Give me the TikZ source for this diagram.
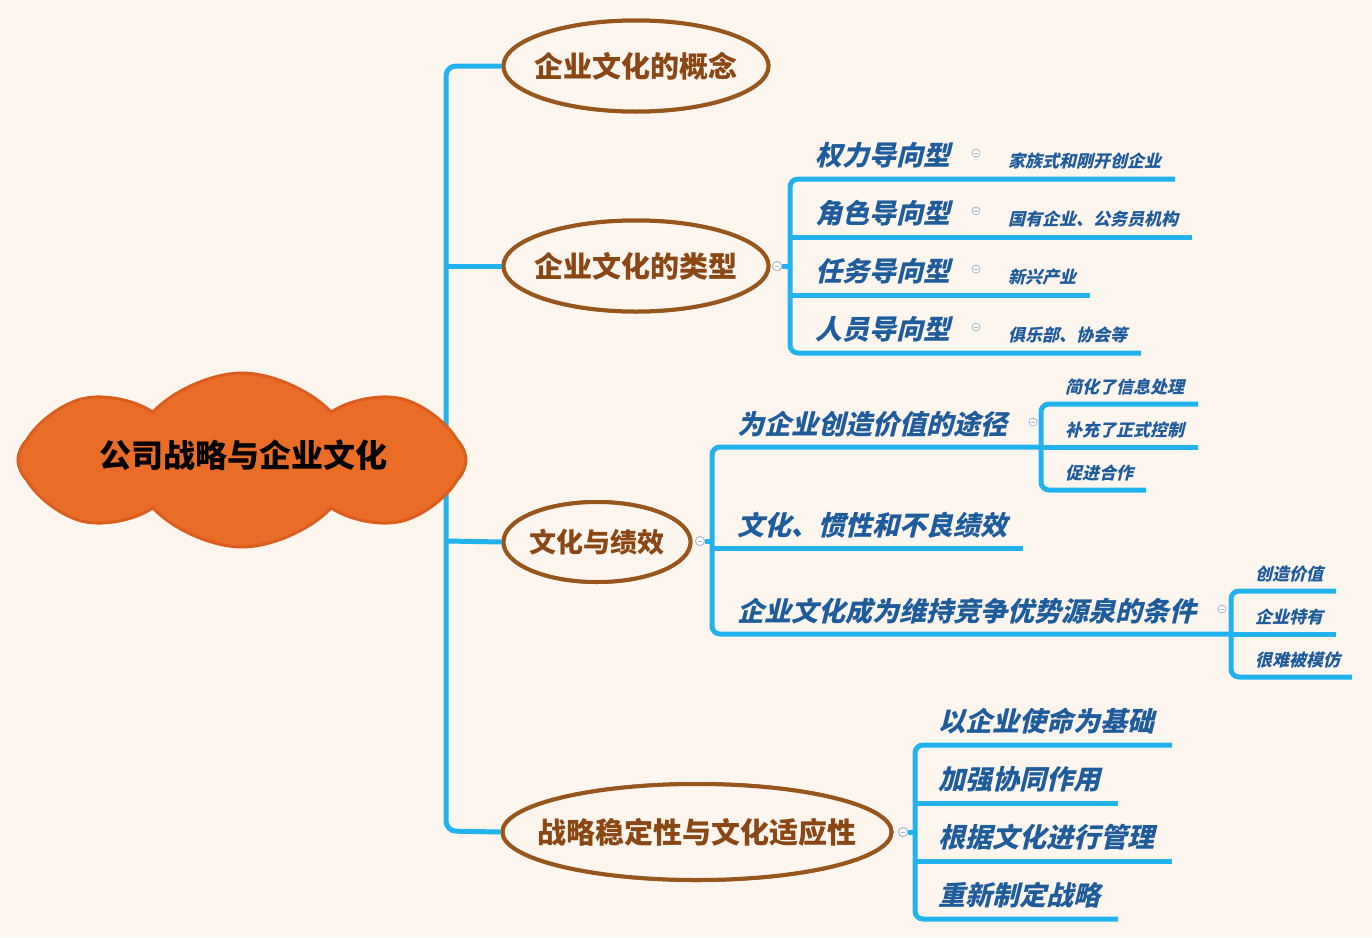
\documentclass[tikz,border=0pt]{standalone}
\usepackage{fontspec}
\usetikzlibrary{shapes.symbols,shapes.geometric}
\newfontfamily\cjk{Noto Sans CJK SC}
\newfontfamily\cjkit{Noto Sans CJK SC}[FakeSlant=0.24]
\definecolor{bgc}{HTML}{FCF6EF}
\definecolor{lblue}{HTML}{22B2EE}
\definecolor{tblue}{HTML}{1F5C9C}
\definecolor{ebrown}{HTML}{98561B}
\definecolor{tbrown}{HTML}{8A4714}
\definecolor{corange}{HTML}{EA6D27}
\definecolor{corange2}{HTML}{DA5E1E}
\definecolor{mkc}{HTML}{A7B4CF}
\tikzset{
  br/.style={draw=lblue, line width=5pt, rounded corners=8pt},
  lone/.style={ellipse, draw=ebrown, line width=4pt, fill=bgc, inner sep=0pt, text=tbrown},
  ltext/.style={anchor=base, inner sep=0pt, text=tbrown, font=\cjk\bfseries\fontsize{29}{32}\selectfont},
  ttwo/.style={anchor=base west, inner sep=0pt, text=tblue, font=\cjkit\bfseries\fontsize{27}{30}\selectfont},
  tthree/.style={anchor=base west, inner sep=0pt, text=tblue, font=\cjkit\bfseries\fontsize{17}{20}\selectfont},
  mk/.style={circle, draw=mkc, fill=white, minimum size=9pt, inner sep=0pt, line width=0.8pt,
    path picture={\draw[mkc, line width=0.9pt] ([xshift=-2.3pt]path picture bounding box.center) -- ([xshift=2.3pt]path picture bounding box.center);}}
}
\begin{document}
\begin{tikzpicture}[x=1pt,y=-1pt]
\useasboundingbox (0,0) rectangle (1372,937);
\fill[bgc] (0,0) rectangle (1372,937);

% ---- level 1 ellipses
\node[lone, minimum width=265pt, minimum height=91pt] (e1) at (636,66) {};
\node[lone, minimum width=265pt, minimum height=91pt] (e2) at (636,266) {};
\node[lone, minimum width=187pt, minimum height=80pt] (e3) at (597,542) {};
\node[lone, minimum width=389pt, minimum height=96pt] (e4) at (697,832) {};

% ---- trunk
\coordinate (t1) at (446,66);
\coordinate (t2) at (446,266);
\coordinate (t3) at (446,541);
\coordinate (t4) at (446,831);
\draw[br, rounded corners=10pt] (e1.west) -- (t1) -- (t4) -- (e4.west);
\draw[br, rounded corners=0pt] (t2) -- (e2.west);
\draw[br, rounded corners=0pt] (t3) -- (e3.west);

% redraw ellipses on top of connectors
\node[lone, minimum width=265pt, minimum height=91pt] at (636,66) {};
\node[lone, minimum width=265pt, minimum height=91pt] at (636,266) {};
\node[lone, minimum width=187pt, minimum height=80pt] at (597,542) {};
\node[lone, minimum width=389pt, minimum height=96pt] at (697,832) {};
\node[ltext] (l1) at (636,77) {企业文化的概念};
\node[ltext] (l2) at (636,277) {企业文化的类型};
\node[ltext, font=\cjk\bfseries\fontsize{27}{30}\selectfont] (l3) at (597,552) {文化与绩效};
\node[ltext] (l4) at (697,843) {战略稳定性与文化适应性};

% ---- root cloud
\node[cloud, cloud puffs=8, cloud puff arc=95, aspect=2.6, fill=corange, draw=corange2, line width=3pt,
      minimum width=448pt, minimum height=174pt, inner sep=0pt, shape border rotate=2] (root) at (242,460) {};
\node[anchor=base, inner sep=0pt, font=\cjk\bfseries\fontsize{32}{36}\selectfont, text=black] (rootlabel) at (243,467) {公司战略与企业文化};

% ---- group: types
\coordinate (g2) at (790,266);
\draw[br] (1175,179) -- (790,179) -- (790,353) -- (1141,353);
\draw[br, rounded corners=0pt] (790,237) -- (1192,237);
\draw[br, rounded corners=0pt] (790,295) -- (1090,295);
\node[mk] (m2) at (777,266) {};
\draw[br, rounded corners=0pt] (m2.east) -- (g2);
\node[mk] at (777,266) {};

\node[ttwo] (a1) at (815,165) {权力导向型};
\node[ttwo] (a2) at (815,223) {角色导向型};
\node[ttwo] (a3) at (815,281) {任务导向型};
\node[ttwo] (a4) at (815,339) {人员导向型};
\node[mk, minimum size=8pt] (ma1) at (976,153) {};
\node[mk, minimum size=8pt] (ma2) at (976,211) {};
\node[mk, minimum size=8pt] (ma3) at (976,269) {};
\node[mk, minimum size=8pt] (ma4) at (976,327) {};
\node[tthree] (b1) at (1008,167.5) {家族式和刚开创企业};
\node[tthree] (b2) at (1008,225.5) {国有企业、公务员机构};
\node[tthree] (b3) at (1008,283.5) {新兴产业};
\node[tthree] (b4) at (1008,341.5) {俱乐部、协会等};

% ---- group: culture & performance
\coordinate (g3) at (712,541);
\draw[br] (1041,447) -- (712,447) -- (712,634) -- (1231,634);
\draw[br, rounded corners=0pt] (712,548) -- (1023,548);
\node[mk] (m3) at (700,541) {};
\draw[br, rounded corners=0pt] (m3.east) -- (g3);
\node[mk] at (700,541) {};
\node[ttwo] (c1) at (737,434) {为企业创造价值的途径};
\node[ttwo] (c2) at (737,535) {文化、惯性和不良绩效};
\node[ttwo] (c3) at (737,621) {企业文化成为维持竞争优势源泉的条件};
\node[mk, minimum size=8pt] (mc1) at (1033,422) {};
\node[mk, minimum size=8pt] (mc3) at (1222,609) {};

% sub-bracket 1
\draw[br] (1198,404) -- (1041,404) -- (1041,490) -- (1146,490);
\draw[br, rounded corners=0pt] (1041,447) -- (1198,447);
\node[tthree] (d1) at (1065,393.5) {简化了信息处理};
\node[tthree] (d2) at (1065,436.5) {补充了正式控制};
\node[tthree] (d3) at (1065,479.5) {促进合作};

% sub-bracket 2
\draw[br] (1336,591) -- (1231,591) -- (1231,677) -- (1352,677);
\draw[br, rounded corners=0pt] (1231,634) -- (1336,634);
\node[tthree] (f1) at (1255,580.5) {创造价值};
\node[tthree] (f2) at (1255,623.5) {企业特有};
\node[tthree] (f3) at (1255,666.5) {很难被模仿};

% ---- group: stability
\coordinate (g4) at (915,832);
\draw[br] (1172,745) -- (915,745) -- (915,919) -- (1118,919);
\draw[br, rounded corners=0pt] (915,803) -- (1118,803);
\draw[br, rounded corners=0pt] (915,861) -- (1172,861);
\node[mk] (m4) at (903,832) {};
\draw[br, rounded corners=0pt] (m4.east) -- (g4);
\node[mk] at (903,832) {};
\node[ttwo] (h1) at (938,731) {以企业使命为基础};
\node[ttwo] (h2) at (938,789) {加强协同作用};
\node[ttwo] (h3) at (938,847) {根据文化进行管理};
\node[ttwo] (h4) at (938,905) {重新制定战略};
\end{tikzpicture}
\end{document}
